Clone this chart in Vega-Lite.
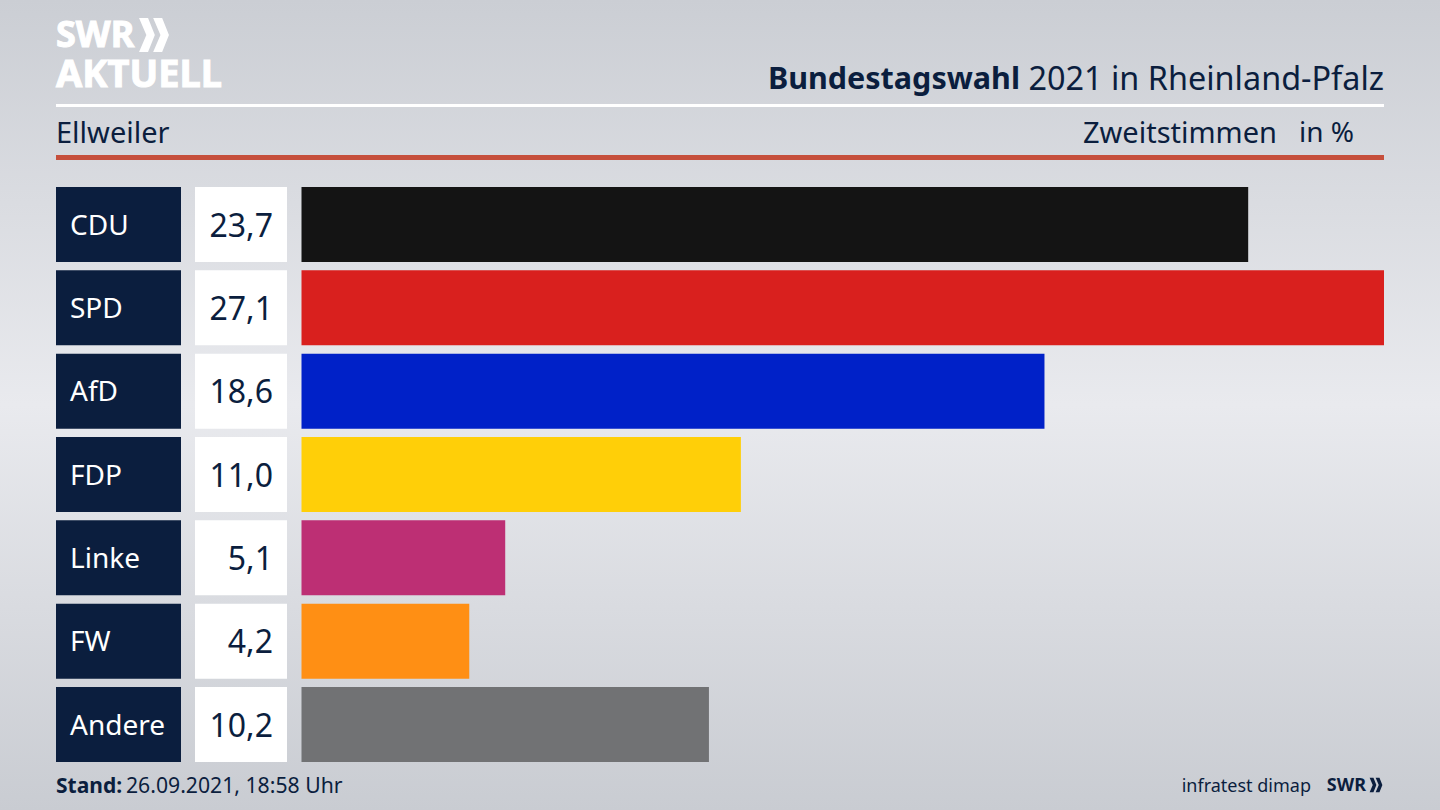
{
  "$schema": "https://vega.github.io/schema/vega-lite/v6.json",
  "autosize": {"type": "fit", "contains": "padding"},
  "width": 1440,
  "height": 810,
  "padding": 0,
  "background": "#d4d6dc",
  "view": {
    "stroke": null,
    "fill": {
      "gradient": "linear",
      "x1": 0, "y1": 0, "x2": 0, "y2": 1,
      "stops": [
        {"offset": 0, "color": "#cbced4"},
        {"offset": 0.5, "color": "#e9eaee"},
        {"offset": 1, "color": "#c9ccd2"}
      ]
    }
  },
  "config": {
    "font": "Noto Sans",
    "locale": {"number": {"decimal": ",", "thousands": ".", "grouping": [3], "currency": ["", " €"]}}
  },
  "data": {
    "values": [
      {"Partei": "CDU", "Anteil": 23.7},
      {"Partei": "SPD", "Anteil": 27.1},
      {"Partei": "AfD", "Anteil": 18.6},
      {"Partei": "FDP", "Anteil": 11.0},
      {"Partei": "Linke", "Anteil": 5.1},
      {"Partei": "FW", "Anteil": 4.2},
      {"Partei": "Andere", "Anteil": 10.2}
    ]
  },
  "resolve": {"scale": {"x": "independent", "y": "independent", "color": "independent", "strokeWidth": "independent"}},
  "layer": [
    {
      "encoding": {
        "y": {
          "field": "Partei", "type": "nominal", "axis": null,
          "scale": {"domain": ["CDU", "SPD", "AfD", "FDP", "Linke", "FW", "Andere"], "range": [187, 762], "paddingInner": 0.1, "paddingOuter": 0}
        }
      },
      "layer": [
        {
          "mark": {"type": "rect", "fill": "#0b1e3e"},
          "encoding": {
            "x": {"datum": 0, "type": "quantitative", "axis": null, "scale": {"domain": [0, 1], "range": [56, 181]}},
            "x2": {"datum": 1}
          }
        },
        {
          "mark": {"type": "text", "align": "left", "baseline": "middle", "dx": 14, "dy": 2, "fontSize": 28, "color": "#ffffff"},
          "encoding": {
            "x": {"datum": 0, "type": "quantitative", "axis": null, "scale": {"domain": [0, 1], "range": [56, 181]}},
            "text": {"field": "Partei"}
          }
        }
      ]
    },
    {
      "encoding": {
        "y": {
          "field": "Partei", "type": "nominal", "axis": null,
          "scale": {"domain": ["CDU", "SPD", "AfD", "FDP", "Linke", "FW", "Andere"], "range": [187, 762], "paddingInner": 0.1, "paddingOuter": 0}
        }
      },
      "layer": [
        {
          "mark": {"type": "rect", "fill": "#ffffff"},
          "encoding": {
            "x": {"datum": 0, "type": "quantitative", "axis": null, "scale": {"domain": [0, 1], "range": [195, 287]}},
            "x2": {"datum": 1}
          }
        },
        {
          "mark": {"type": "text", "align": "right", "baseline": "middle", "dx": -14, "dy": 2, "fontSize": 32, "color": "#0b1e3e"},
          "encoding": {
            "x": {"datum": 1, "type": "quantitative", "axis": null, "scale": {"domain": [0, 1], "range": [195, 287]}},
            "text": {"field": "Anteil", "type": "quantitative", "format": ".1f"}
          }
        }
      ]
    },
    {
      "mark": {"type": "bar"},
      "encoding": {
        "x": {"field": "Anteil", "type": "quantitative", "axis": null, "scale": {"domain": [0, 27.1], "range": [301.5, 1384]}},
        "y": {
          "field": "Partei", "type": "nominal", "axis": null,
          "scale": {"domain": ["CDU", "SPD", "AfD", "FDP", "Linke", "FW", "Andere"], "range": [187, 762], "paddingInner": 0.1, "paddingOuter": 0}
        },
        "color": {
          "field": "Partei", "type": "nominal", "legend": null,
          "scale": {
            "domain": ["CDU", "SPD", "AfD", "FDP", "Linke", "FW", "Andere"],
            "range": ["#141414", "#d9201e", "#0021c8", "#ffcf08", "#bd2f74", "#ff8f14", "#717274"]
          }
        }
      }
    },
    {
      "data": {"values": [{"Linie": "Kopf"}, {"Linie": "Unterzeile"}]},
      "mark": {"type": "rule"},
      "encoding": {
        "x": {"datum": "links", "type": "nominal", "axis": null, "scale": {"type": "point", "domain": ["links", "rechts"], "range": [56, 1384], "padding": 0}},
        "x2": {"datum": "rechts"},
        "y": {"field": "Linie", "type": "nominal", "axis": null, "scale": {"type": "point", "domain": ["Kopf", "Unterzeile"], "range": [105.5, 157.5], "padding": 0}},
        "color": {"field": "Linie", "type": "nominal", "legend": null, "scale": {"domain": ["Kopf", "Unterzeile"], "range": ["#ffffff", "#c64f3c"]}},
        "strokeWidth": {"field": "Linie", "type": "nominal", "legend": null, "scale": {"domain": ["Kopf", "Unterzeile"], "range": [3, 5]}}
      }
    },
    {
      "encoding": {
        "x": {"field": "Spalte", "type": "nominal", "axis": null, "scale": {"type": "point", "domain": ["links", "rechts"], "range": [56, 1384], "padding": 0}},
        "y": {"field": "Zeile", "type": "nominal", "axis": null, "scale": {"type": "point", "domain": ["Titel", "Fuss"], "range": [80, 787], "padding": 0}},
        "text": {"field": "Text"}
      },
      "layer": [
        {
          "data": {"values": [{"Text": "SWR", "Spalte": "links", "Zeile": "Titel"}]},
          "mark": {"type": "text", "align": "left", "baseline": "middle", "dy": -44, "fontSize": 36, "fontWeight": "bold", "color": "#ffffff", "stroke": "#ffffff", "strokeWidth": 1}
        },
        {
          "data": {"values": [{"Spalte": "links", "Zeile": "Titel"}]},
          "mark": {"type": "point", "filled": true, "opacity": 1, "xOffset": 98, "yOffset": -45, "size": 1156, "color": "#ffffff",
            "shape": "M-0.88,-1L-0.35,-1L0.05,0L-0.35,1L-0.88,1L-0.45,0ZM-0.05,-1L0.48,-1L0.88,0L0.48,1L-0.05,1L0.38,0Z"}
        },
        {
          "data": {"values": [{"Text": "AKTUELL", "Spalte": "links", "Zeile": "Titel"}]},
          "mark": {"type": "text", "align": "left", "baseline": "middle", "dy": -4, "fontSize": 38, "fontWeight": "bold", "color": "#ffffff", "stroke": "#ffffff", "strokeWidth": 1}
        },
        {
          "data": {"values": [{"Text": "2021 in Rheinland-Pfalz", "Spalte": "rechts", "Zeile": "Titel"}]},
          "mark": {"type": "text", "align": "right", "baseline": "middle", "fontSize": 32.4, "color": "#0b1e3e"}
        },
        {
          "data": {"values": [{"Text": "Bundestagswahl", "Spalte": "rechts", "Zeile": "Titel"}]},
          "mark": {"type": "text", "align": "right", "baseline": "middle", "dx": -364, "fontSize": 30.5, "fontWeight": "bold", "color": "#0b1e3e"}
        },
        {
          "data": {"values": [{"Text": "Ellweiler", "Spalte": "links", "Zeile": "Titel"}]},
          "mark": {"type": "text", "align": "left", "baseline": "middle", "dy": 54, "fontSize": 29, "color": "#0b1e3e"}
        },
        {
          "data": {"values": [{"Text": "Zweitstimmen", "Spalte": "rechts", "Zeile": "Titel"}]},
          "mark": {"type": "text", "align": "right", "baseline": "middle", "dx": -107, "dy": 54, "fontSize": 29, "color": "#0b1e3e"}
        },
        {
          "data": {"values": [{"Text": "in %", "Spalte": "rechts", "Zeile": "Titel"}]},
          "mark": {"type": "text", "align": "right", "baseline": "middle", "dx": -30, "dy": 54, "fontSize": 28, "color": "#0b1e3e"}
        },
        {
          "data": {"values": [{"Text": "Stand:", "Spalte": "links", "Zeile": "Fuss"}]},
          "mark": {"type": "text", "align": "left", "baseline": "middle", "fontSize": 21, "fontWeight": "bold", "color": "#0b1e3e"}
        },
        {
          "data": {"values": [{"Text": "26.09.2021, 18:58 Uhr", "Spalte": "links", "Zeile": "Fuss"}]},
          "mark": {"type": "text", "align": "left", "baseline": "middle", "dx": 70, "fontSize": 21.2, "color": "#0b1e3e"}
        },
        {
          "data": {"values": [{"Text": "infratest dimap", "Spalte": "rechts", "Zeile": "Fuss"}]},
          "mark": {"type": "text", "align": "right", "baseline": "middle", "dx": -73, "fontSize": 18, "color": "#0b1e3e"}
        },
        {
          "data": {"values": [{"Text": "SWR", "Spalte": "rechts", "Zeile": "Fuss"}]},
          "mark": {"type": "text", "align": "right", "baseline": "middle", "dx": -18, "dy": -1, "fontSize": 18, "fontWeight": "bold", "color": "#0b1e3e"}
        },
        {
          "data": {"values": [{"Spalte": "rechts", "Zeile": "Fuss"}]},
          "mark": {"type": "point", "filled": true, "opacity": 1, "xOffset": -8, "yOffset": -2, "size": 210, "color": "#0b1e3e",
            "shape": "M-0.88,-1L-0.35,-1L0.05,0L-0.35,1L-0.88,1L-0.45,0ZM-0.05,-1L0.48,-1L0.88,0L0.48,1L-0.05,1L0.38,0Z"}
        }
      ]
    }
  ]
}
